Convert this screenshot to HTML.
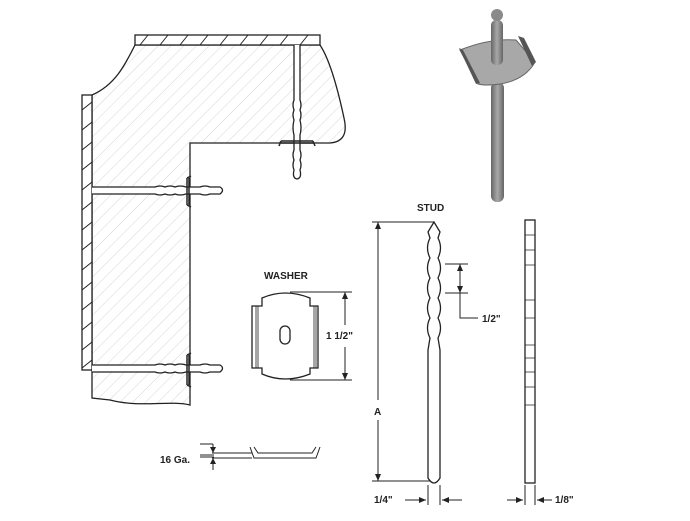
<!DOCTYPE html>
<html><head><meta charset="utf-8"><style>
html,body{margin:0;padding:0;background:#fff;}
svg{display:block;}
text{font-family:"Liberation Sans",Arial,sans-serif;font-weight:bold;fill:#222;}
</style></head><body>
<svg width="690" height="521" viewBox="0 0 690 521" xmlns="http://www.w3.org/2000/svg">
<defs>
<pattern id="h" width="9" height="9" patternUnits="userSpaceOnUse" patternTransform="rotate(45)">
<line x1="0" y1="0" x2="0" y2="9" stroke="#ccc" stroke-width="0.8"/>
</pattern>
<linearGradient id="g" x1="0" x2="1"><stop offset="0" stop-color="#666"/><stop offset="0.5" stop-color="#a8a8a8"/><stop offset="1" stop-color="#666"/></linearGradient>
</defs>
<g stroke="#222" stroke-width="1.3" fill="none">
<path d="M135 45 L320 45 C330 60 338 90 344 118 C348 135 342 142 330 143 L190 143 L190 405 C170 400 140 408 110 400 L92 398 L92 95 C115 85 125 65 135 45 Z" fill="url(#h)"/>
<rect x="135" y="35" width="185" height="10" fill="#fff"/>
<g stroke-width="1">
<line x1="140" y1="45" x2="148" y2="35"/><line x1="160" y1="45" x2="168" y2="35"/><line x1="180" y1="45" x2="188" y2="35"/><line x1="200" y1="45" x2="208" y2="35"/><line x1="220" y1="45" x2="228" y2="35"/><line x1="240" y1="45" x2="248" y2="35"/><line x1="260" y1="45" x2="268" y2="35"/><line x1="280" y1="45" x2="288" y2="35"/><line x1="300" y1="45" x2="308" y2="35"/>
</g>
<rect x="82" y="95" width="10" height="275" fill="#fff"/>
<g stroke-width="1">
<line x1="82" y1="110" x2="92" y2="102"/><line x1="82" y1="130" x2="92" y2="122"/><line x1="82" y1="150" x2="92" y2="142"/><line x1="82" y1="170" x2="92" y2="162"/><line x1="82" y1="190" x2="92" y2="182"/><line x1="82" y1="210" x2="92" y2="202"/><line x1="82" y1="230" x2="92" y2="222"/><line x1="82" y1="250" x2="92" y2="242"/><line x1="82" y1="270" x2="92" y2="262"/><line x1="82" y1="290" x2="92" y2="282"/><line x1="82" y1="310" x2="92" y2="302"/><line x1="82" y1="330" x2="92" y2="322"/><line x1="82" y1="350" x2="92" y2="342"/><line x1="82" y1="368" x2="92" y2="360"/>
</g>
<path d="M92 187 L155 187 Q160 185 165 187 Q170 185 175 187 Q180 185 186 187 L200 187 Q205 185 210 187 L220 187 Q225 190 220 194 L210 194 Q205 196 200 194 L186 194 Q180 196 175 194 Q170 196 165 194 Q160 196 155 194 L92 194" fill="#fff"/>
<path d="M92 365 L155 365 Q160 363 165 365 Q170 363 175 365 Q180 363 186 365 L200 365 Q205 363 210 365 L220 365 Q225 368 220 372 L210 372 Q205 374 200 372 L186 372 Q180 374 175 372 Q170 374 165 372 Q160 374 155 372 L92 372" fill="#fff"/>
<path d="M187 178 L187 205 M189 178 L189 205 M187 178 L191 176 M187 205 L191 207" stroke-width="1.5"/>
<path d="M187 355 L187 385 M189 355 L189 385 M187 355 L191 353 M187 385 L191 387" stroke-width="1.5"/>
<path d="M294 45 L294 100 Q292 105 294 110 Q292 115 294 120 Q292 128 294 135 L294 150 Q292 155 294 160 Q292 165 294 170 Q292 178 297 179 Q302 178 300 170 Q302 165 300 160 Q302 155 300 150 L300 135 Q302 128 300 120 Q302 115 300 110 Q302 105 300 100 L300 45" fill="#fff"/>
<path d="M281 141 L313 141 M281 143 L313 143 M281 141 L279 146 M313 141 L315 146" stroke-width="1.5"/>
<path d="M262 298 Q285 288 310 298 L310 306 L318 306 L318 368 L310 368 L310 374 Q285 384 262 374 L262 368 L252 368 L252 306 L262 306 Z" fill="#fff"/>
<path d="M256 306 L256 368 M258 306 L258 368 M314 306 L314 368 M316 306 L316 368" stroke-width="0.8"/>
<rect x="280" y="326" width="10" height="18" rx="5"/>
<path d="M290 292 L352 292 M290 380 L352 380 M345 292 L345 325 M345 347 L345 380" stroke-width="1"/>
<path d="M212 453 L252 453 M212 458 L252 458 M250 447 L254 458 L316 458 L320 447 M254 447 L258 453 L312 453 L316 447" stroke-width="1"/>
<path d="M200 455 L214 455 M200 457 L214 457 M213 444 L213 453 M213 458 L213 470 M200 444 L213 444" stroke-width="1"/>
<path d="M428 232 L434 222 L440 232 L438 238 Q443 248 438 258 Q443 268 438 278 Q443 288 438 298 Q443 308 438 318 Q443 328 438 338 L440 350 L440 478 Q434 488 428 478 L428 350 L430 338 Q425 328 430 318 Q425 308 430 298 Q425 288 430 278 Q425 268 430 258 Q425 248 430 238 Z" fill="#fff"/>
<path d="M372 222 L434 222 M372 481 L430 481 M378 222 L378 400 M378 420 L378 481 M445 264 L468 264 M445 293 L468 293 M460 264 L460 318 L478 318" stroke-width="1"/>
<path d="M428 485 L428 505 M440 485 L440 505 M405 500 L426 500 M442 500 L462 500" stroke-width="1"/>
<rect x="525" y="220" width="10" height="263" fill="#fff"/>
<path d="M525 235 L535 235 M525 250 L535 250 M525 265 L535 265 M525 300 L535 300 M525 318 L535 318 M525 345 L535 345 M525 358 L535 358 M525 372 L535 372 M525 387 L535 387 M525 405 L535 405" stroke-width="0.7"/>
<path d="M525 485 L525 505 M535 485 L535 505 M507 500 L523 500 M537 500 L552 500" stroke-width="1"/>
</g>
<g fill="#222">
<path d="M345 292 l-3 7 h6z M345 380 l-3 -7 h6z M378 222 l-3 7 h6z M378 481 l-3 -7 h6z M460 264 l-3 7 h6z M460 293 l-3 -7 h6z M213 453 l-3 -6 h6z M213 458 l-3 6 h6z M426 500 l-7 -3 v6z M442 500 l7 -3 v6z M523 500 l-7 -3 v6z M537 500 l7 -3 v6z"/>
</g>
<g>
<rect x="491" y="82" width="13" height="120" rx="6" fill="url(#g)"/>
<path d="M460 50 Q490 38 516 40 L535 62 Q525 80 500 84 Q485 86 478 84 Z" fill="#a8a8a8" stroke="#666"/>
<path d="M459 48 L463 50 L480 83 L476 84Z M518 36 L524 38 L536 62 L532 66Z" fill="#555"/>
<rect x="491" y="20" width="12" height="45" rx="5" fill="url(#g)"/>
<circle cx="497" cy="15" r="6" fill="#8a8a8a"/>
</g>
<g font-size="10">
<text x="417" y="211">STUD</text>
<text x="264" y="279">WASHER</text>
<text x="326" y="339">1 1/2"</text>
<text x="482" y="322">1/2"</text>
<text x="374" y="415">A</text>
<text x="374" y="503">1/4"</text>
<text x="555" y="503">1/8"</text>
<text x="160" y="463">16 Ga.</text>
</g>
</svg>
</body></html>
